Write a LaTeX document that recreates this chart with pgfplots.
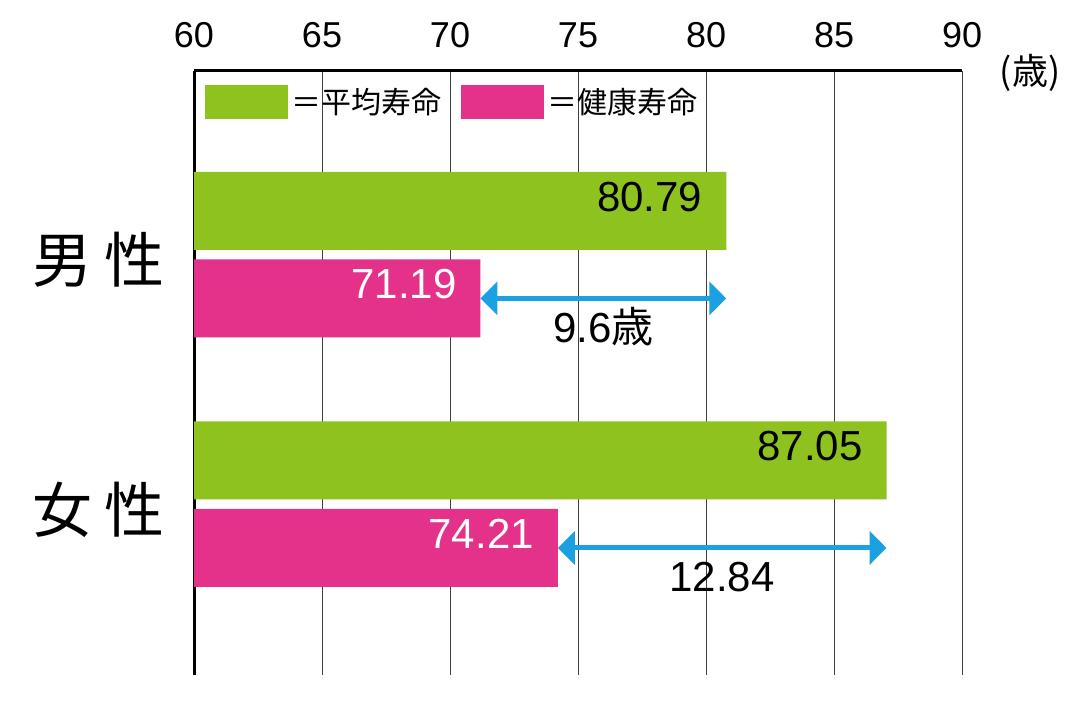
\documentclass[border=0pt]{standalone}
\usepackage{pgfplots}
\pgfplotsset{compat=1.18}
\usepackage{fontspec}
\setmainfont{Liberation Sans}
\newfontfamily\cjk{Noto Sans CJK JP}
\usetikzlibrary{arrows.meta}
\definecolor{lgreen}{HTML}{8DC21F}
\definecolor{lpink}{HTML}{E4318A}
\definecolor{lblue}{HTML}{1BA1E2}
\begin{document}
\begin{tikzpicture}
\begin{axis}[
  set layers,
  scale only axis, width=384pt, height=302pt,
  xmin=60, xmax=90, ymin=0, ymax=604,
  axis x line=top, axis y line=left,
  axis line style={-, line width=1.5pt, black, on layer=axis foreground},
  xtick={60,65,...,90},
  ytick={165,415},
  yticklabels={{\cjk 女\hspace{6pt}性},{\cjk 男\hspace{6pt}性}},
  major tick length=0pt,
  xmajorgrids, grid style={line width=0.5pt, black!75},
  /pgf/number format/assume math mode=true,
  xticklabel style={font=\fontsize{18}{20}\selectfont, inner sep=0pt},
  xticklabel shift=11.5pt,
  yticklabel style={font=\fontsize{30}{32}\selectfont, inner sep=0pt},
  yticklabel shift=14.5pt,
  xlabel={\cjk (歳)},
  xlabel style={at={(rel axis cs:1.0885,0.9967)}, anchor=center, font=\fontsize{18}{20}\selectfont},
  legend columns=2,
  legend style={at={(0.0143,0.9768)}, anchor=north west, draw=none, fill=none,
    inner sep=0pt, font=\cjk\fontsize{15}{17}\selectfont,
    nodes={inner sep=1.5pt},
    /tikz/every even column/.append style={column sep=8.5pt}},
  legend cell align=left,
  legend image code/.code={\fill[#1] (0pt,-8.5pt) rectangle (41.5pt,8.5pt);},
]
\addplot[xbar, bar shift=0pt, bar width=78, fill=lgreen, draw=none,
  nodes near coords,
  /pgf/number format/.cd, fixed, precision=2, fixed zerofill, /pgfplots/.cd,
  every node near coord/.append style={anchor=east, xshift=-8.5pt, yshift=7pt,
    font=\fontsize{21}{23}\selectfont, text=black}]
  coordinates {(80.79,464) (87.05,214.5)};
\addlegendentry{＝平均寿命}
\addplot[xbar, bar shift=0pt, bar width=78, fill=lpink, draw=none,
  nodes near coords,
  /pgf/number format/.cd, fixed, precision=2, fixed zerofill, /pgfplots/.cd,
  every node near coord/.append style={anchor=east, xshift=-8.5pt, yshift=7pt,
    font=\fontsize{21}{23}\selectfont, text=white}]
  coordinates {(71.19,376.5) (74.21,127)};
\addlegendentry{＝健康寿命}
\addplot[forget plot, lblue, line width=2.5pt,
  {Triangle[length=8.5pt,width=16.5pt]}-{Triangle[length=8.5pt,width=16.5pt]}]
  coordinates {(71.19,376.5) (80.79,376.5)};
\addplot[forget plot, lblue, line width=2.5pt,
  {Triangle[length=8.5pt,width=16.5pt]}-{Triangle[length=8.5pt,width=16.5pt]}]
  coordinates {(74.21,127) (87.05,127)};
\node[font=\fontsize{21}{23}\selectfont] at (axis cs:75.99,348) {9.6{\cjk 歳}};
\node[font=\fontsize{21}{23}\selectfont] at (axis cs:80.63,98) {12.84};
\coordinate (bbsw) at (rel axis cs:-0.2526,-0.0497);
\coordinate (bbne) at (rel axis cs:1.1536,1.1175);
\end{axis}
\pgfresetboundingbox
\path[use as bounding box] (bbsw) rectangle (bbne);
\end{tikzpicture}
\end{document}
